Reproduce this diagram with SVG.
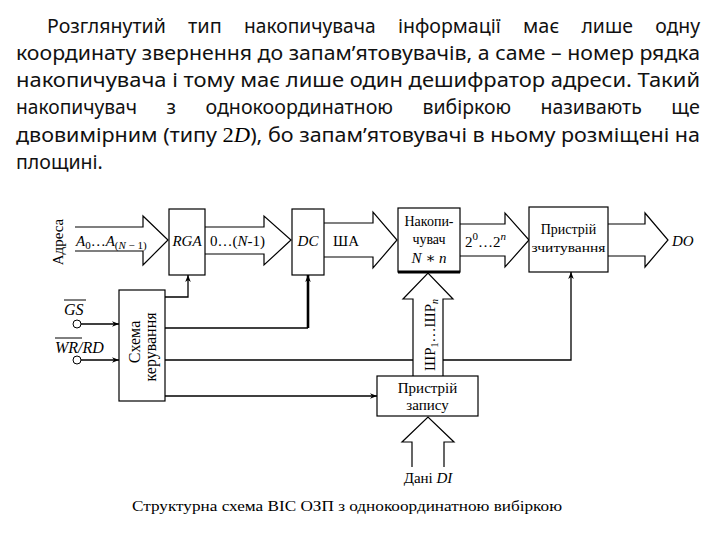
<svg xmlns="http://www.w3.org/2000/svg" width="720" height="540" viewBox="0 0 720 540">
<style>
.para{font-family:"Noto Sans","Open Sans",sans-serif;font-size:20px;fill:#111}
.s{font-family:"Liberation Serif","DejaVu Serif",serif;fill:#000}
.i{font-style:italic}
.box{fill:#fff;stroke:#000;stroke-width:1.2}
.ln{fill:none;stroke:#000;stroke-width:1.3}
.bus{fill:#fff;stroke:#000;stroke-width:1.2;stroke-linejoin:miter}
</style>
<defs>
<marker id="ah" viewBox="0 0 10 10" refX="10" refY="5" markerWidth="7" markerHeight="7" orient="auto" markerUnits="userSpaceOnUse">
<path d="M0,1 L10,5 L0,9 L3,5 z" fill="#000"/>
</marker>
</defs>
<rect width="720" height="540" fill="#fff"/>

<g id="paragraph" class="para">
<text y="33"><tspan x="47" textLength="118.8" lengthAdjust="spacingAndGlyphs">Розглянутий</tspan><tspan x="188.1" textLength="33.7" lengthAdjust="spacingAndGlyphs">тип</tspan><tspan x="244.1" textLength="131.5" lengthAdjust="spacingAndGlyphs">накопичувача</tspan><tspan x="397.9" textLength="102.9" lengthAdjust="spacingAndGlyphs">інформації</tspan><tspan x="523.1" textLength="36.1" lengthAdjust="spacingAndGlyphs">має</tspan><tspan x="581.5" textLength="51.4" lengthAdjust="spacingAndGlyphs">лише</tspan><tspan x="655.2" textLength="44.9" lengthAdjust="spacingAndGlyphs">одну</tspan></text>
<text x="16" y="60" textLength="684" lengthAdjust="spacingAndGlyphs">координату звернення до запам’ятовувачів, а саме – номер рядка</text>
<text x="16" y="87" textLength="684" lengthAdjust="spacingAndGlyphs">накопичувача  і тому має лише один дешифратор адреси. Такий</text>
<text y="114"><tspan x="16" textLength="121" lengthAdjust="spacingAndGlyphs">накопичувач</tspan><tspan x="166.5" textLength="9.5" lengthAdjust="spacingAndGlyphs">з</tspan><tspan x="205.5" textLength="187.5" lengthAdjust="spacingAndGlyphs">однокоординатною</tspan><tspan x="422.5" textLength="88.6" lengthAdjust="spacingAndGlyphs">вибіркою</tspan><tspan x="540.6" textLength="101.2" lengthAdjust="spacingAndGlyphs">називають</tspan><tspan x="671.3" textLength="28.6" lengthAdjust="spacingAndGlyphs">ще</tspan></text>
<text x="16" y="141.5" textLength="684" lengthAdjust="spacingAndGlyphs">двовимірним (типу <tspan class="s" font-size="21">2</tspan><tspan class="s i" font-size="21">D</tspan>), бо запам’ятовувачі в ньому розміщені на</text>
<text x="16" y="169" textLength="86.8" lengthAdjust="spacingAndGlyphs">площині.</text>
</g>

<g id="connectors">
<path class="ln" d="M81,324 H119" marker-end="url(#ah)"/>
<path class="ln" d="M81,360 H119" marker-end="url(#ah)"/>
<path class="ln" d="M165,297 H188 V275" marker-end="url(#ah)"/>
<path class="ln" d="M165,328 H308"/>
<path fill="none" stroke="#000" stroke-width="2.6" d="M308,328 V275" marker-end="url(#ah)"/>
<path class="ln" d="M165,360 H571 V272" marker-end="url(#ah)"/>
<path class="ln" d="M165,396 H377" marker-end="url(#ah)"/>

<path id="bus-addr" class="bus" d="M75,227 H143 V216 L168,240 L143,265 V251 H75"/>
<path id="bus-rga-dc" class="bus" d="M205,227 H264 V216 L291,240 L264,265 V254 H205"/>
<path id="bus-sha" class="bus" d="M324,223 H373 V212 L397,240 L373,268 V257 H324"/>
<path id="bus-bits" class="bus" d="M460,224 H505 V213 L529,240 L505,267 V256 H460"/>
<path id="bus-do" class="bus" d="M608,224 H645 V213 L668,240 L645,267 V256 H608"/>
<path id="bus-shr" class="bus" d="M413,376 V299 H403 L428,273 L453,299 H443 V376"/>
<path id="bus-di" class="bus" d="M412,467 V442 H402 L428,417 L454,442 H444 V467"/>

<text class="s" x="76" y="246" font-size="15"><tspan class="i">A</tspan><tspan font-size="11" dy="3">0</tspan><tspan dy="-3">…</tspan><tspan class="i">A</tspan><tspan font-size="11" dy="3">(<tspan class="i">N</tspan> − 1)</tspan></text>
<text class="s" x="210" y="246" font-size="15">0…(<tspan class="i">N</tspan>-1)</text>
<text class="s" x="333" y="246" font-size="15">ША</text>
<text class="s" x="465" y="247" font-size="15">2<tspan font-size="11" dy="-7">0</tspan><tspan dy="7">…2</tspan><tspan class="i" font-size="11" dy="-7">n</tspan></text>
<text class="s i" x="672" y="246" font-size="15">DO</text>
<text class="s" transform="translate(435,335) rotate(-90)" text-anchor="middle" font-size="15">ШР<tspan font-size="10" dy="3">1</tspan><tspan dy="-3">…ШР</tspan><tspan class="i" font-size="10" dy="3">n</tspan></text>
<text class="s" x="428" y="483" text-anchor="middle" font-size="15">Дані <tspan class="i">DI</tspan></text>
</g>

<g id="label-address">
<text class="s" transform="translate(63,242) rotate(-90)" text-anchor="middle" font-size="15">Адреса</text>
</g>

<g id="input-gs">
<text class="s i" x="64" y="315" font-size="16">GS</text>
<line x1="64" y1="300" x2="86" y2="300" stroke="#000" stroke-width="1"/>
<circle cx="77" cy="324" r="4" fill="#fff" stroke="#000" stroke-width="1"/>
</g>
<g id="input-wrrd">
<text class="s i" x="55" y="353" font-size="16">WR/RD</text>
<line x1="55" y1="338" x2="82" y2="338" stroke="#000" stroke-width="1"/>
<circle cx="77" cy="360" r="4" fill="#fff" stroke="#000" stroke-width="1"/>
</g>

<g id="rga">
<rect class="box" x="169" y="209" width="36" height="66"/>
<text class="s i" x="187" y="246" text-anchor="middle" font-size="15">RGA</text>
</g>

<g id="dc">
<rect class="box" x="292" y="209" width="32" height="66"/>
<text class="s i" x="308" y="246" text-anchor="middle" font-size="15">DC</text>
</g>

<g id="storage">
<rect class="box" x="398" y="208" width="62" height="64"/>
<line x1="398" y1="272" x2="460" y2="272" stroke="#000" stroke-width="3"/>
<text class="s" x="429" y="226" text-anchor="middle" font-size="14">Накопи-</text>
<text class="s" x="429" y="244" text-anchor="middle" font-size="14">чувач</text>
<text class="s i" x="429" y="263" text-anchor="middle" font-size="15">N ∗ n</text>
</g>

<g id="read-device">
<rect class="box" x="529" y="207" width="79" height="65"/>
<text class="s" x="568.5" y="234" text-anchor="middle" font-size="14">Пристрій</text>
<text class="s" x="568.5" y="252" text-anchor="middle" font-size="13" textLength="74" lengthAdjust="spacingAndGlyphs">зчитування</text>
</g>

<g id="control">
<rect class="box" x="119" y="290" width="46" height="111"/>
<text class="s" transform="translate(140,342) rotate(-90)" text-anchor="middle" font-size="16">Схема</text>
<text class="s" transform="translate(156,347) rotate(-90)" text-anchor="middle" font-size="16">керування</text>
</g>

<g id="write-device">
<rect class="box" x="377" y="376" width="101" height="40"/>
<text class="s" x="427.5" y="393" text-anchor="middle" font-size="15">Пристрій</text>
<text class="s" x="427.5" y="410" text-anchor="middle" font-size="15">запису</text>
</g>

<g id="caption">
<text class="s" x="347" y="511" text-anchor="middle" font-size="15" textLength="430" lengthAdjust="spacingAndGlyphs">Структурна схема ВІС ОЗП з однокоординатною вибіркою</text>
</g>
</svg>
